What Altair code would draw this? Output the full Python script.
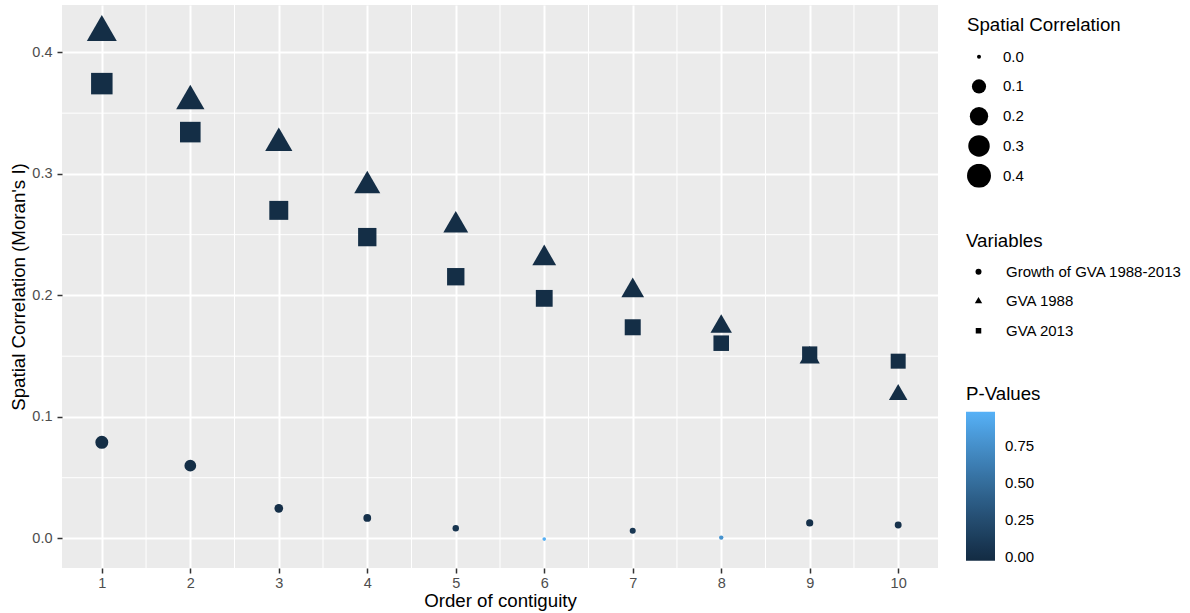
import altair as alt
import pandas as pd

# ---- data ----
orders = [1, 2, 3, 4, 5, 6, 7, 8, 9, 10]
variables = ["Growth of GVA 1988-2013", "GVA 1988", "GVA 2013"]
growth = [0.0791, 0.0599, 0.0248, 0.0169, 0.0084, -0.0005, 0.0064, 0.0007, 0.0128, 0.0111]
gva1988 = [0.4165, 0.3600, 0.3253, 0.2902, 0.2576, 0.2305, 0.2039, 0.1744, 0.1487, 0.1184]
gva2013 = [0.3743, 0.3344, 0.2700, 0.2480, 0.2154, 0.1976, 0.1738, 0.1607, 0.1518, 0.1459]
p_growth = [0.0, 0.0, 0.01, 0.03, 0.06, 0.97, 0.08, 0.78, 0.02, 0.03]
p_1988 = [0.0, 0.0, 0.0, 0.0, 0.0, 0.0, 0.0, 0.0, 0.0, 0.0]
p_2013 = [0.0, 0.0, 0.0, 0.0, 0.0, 0.0, 0.0, 0.0, 0.0, 0.0]

x_ticks = orders
y_ticks = [0.0, 0.1, 0.2, 0.3, 0.4]
x_minor = [1.5, 2.5, 3.5, 4.5, 5.5, 6.5, 7.5, 8.5, 9.5]
y_minor = [0.05, 0.15, 0.25, 0.35]
size_legend_values = [0.0, 0.1, 0.2, 0.3, 0.4]
p_legend_values = [0.0, 0.25, 0.5, 0.75]

rows = []
for name, vals, ps in zip(variables, [growth, gva1988, gva2013], [p_growth, p_1988, p_2013]):
    for o, v, p in zip(orders, vals, ps):
        rows.append({"order": o, "value": v, "variable": name, "p": p})
df = pd.DataFrame(rows)

FONT = "Liberation Sans"

xscale = alt.Scale(domain=[0.55, 10.45], nice=False, zero=False)
yscale = alt.Scale(domain=[-0.0243, 0.439], nice=False, zero=False)

xaxis = alt.Axis(
    values=x_ticks, format="d", grid=True, gridColor="white", gridWidth=2,
    domain=False, tickColor="#333333", tickSize=5, tickWidth=1.5,
    labelFont=FONT, labelFontSize=14.5, labelColor="#4D4D4D", labelPadding=3,
    title="Order of contiguity", titleFont=FONT, titleFontSize=18.7,
    titleFontWeight="normal", titleColor="black", titleY=38, titleBaseline="alphabetic",
)
yaxis = alt.Axis(
    values=y_ticks, format=".1f", grid=True, gridColor="white", gridWidth=2,
    domain=False, tickColor="#333333", tickSize=5, tickWidth=1.5,
    labelFont=FONT, labelFontSize=14.5, labelColor="#4D4D4D", labelPadding=5,
    title="Spatial Correlation (Moran's I)", titleFont=FONT, titleFontSize=18.7,
    titleFontWeight="normal", titleColor="black", titleX=-44, titleY=281.5,
    titleBaseline="middle", titleAlign="center",
)

vminor = alt.Chart(pd.DataFrame({"order": x_minor})).mark_rule(
    color="white", strokeWidth=1
).encode(x=alt.X("order:Q", scale=xscale, axis=xaxis))

hminor = alt.Chart(pd.DataFrame({"value": y_minor})).mark_rule(
    color="white", strokeWidth=1
).encode(y=alt.Y("value:Q", scale=yscale, axis=yaxis))

tri = "M0,-1.42L1.23,0.71L-1.23,0.71Z"
sq = "M-0.92,-0.92L0.92,-0.92L0.92,0.92L-0.92,0.92Z"

points = alt.Chart(df).mark_point(filled=True, opacity=1).encode(
    x=alt.X("order:Q", scale=xscale, axis=xaxis),
    y=alt.Y("value:Q", scale=yscale, axis=yaxis),
    size=alt.Size(
        "value:Q",
        scale=alt.Scale(type="pow", exponent=0.8, domain=[0, 0.42], range=[16, 597]),
        legend=alt.Legend(
            title="Spatial Correlation", values=size_legend_values, format=".1f",
            orient="none", legendX=905, legendY=11, symbolFillColor="black",
            symbolStrokeWidth=0, clipHeight=24, rowPadding=5.75, labelOffset=12,
            titlePadding=10,
        ),
    ),
    shape=alt.Shape(
        "variable:N",
        scale=alt.Scale(domain=variables, range=["circle", tri, sq]),
        legend=alt.Legend(
            title="Variables", orient="none", legendX=904, legendY=227,
            symbolSize=36, symbolFillColor="black", symbolStrokeWidth=0,
            symbolOffset=5, clipHeight=14, rowPadding=14.5, labelOffset=20,
            titlePadding=14, labelLimit=400,
        ),
    ),
    color=alt.Color(
        "p:Q",
        scale=alt.Scale(domain=[-0.022, 0.984], range=["#132B43", "#56B1F7"], interpolate="lab"),
        legend=alt.Legend(
            title="P-Values", values=p_legend_values, format=".2f", orient="none",
            direction="vertical", legendX=904, legendY=380, gradientLength=149,
            gradientThickness=29, gradientStrokeWidth=0, labelOffset=10,
        ),
    ),
)

chart = alt.layer(vminor, hminor, points).properties(
    width=876, height=563,
    autosize=alt.AutoSizeParams(type="none"),
    padding={"left": 62, "top": 5, "right": 252, "bottom": 45},
    background="white",
).configure_view(
    fill="#EBEBEB", strokeWidth=0
).configure_legend(
    titleFont=FONT, titleFontSize=18.7, titleFontWeight="normal", titleColor="black",
    labelFont=FONT, labelFontSize=15, labelColor="black", padding=0, titlePadding=8,
)

chart.save("out.html", embed_options={"renderer": "svg", "actions": False})
